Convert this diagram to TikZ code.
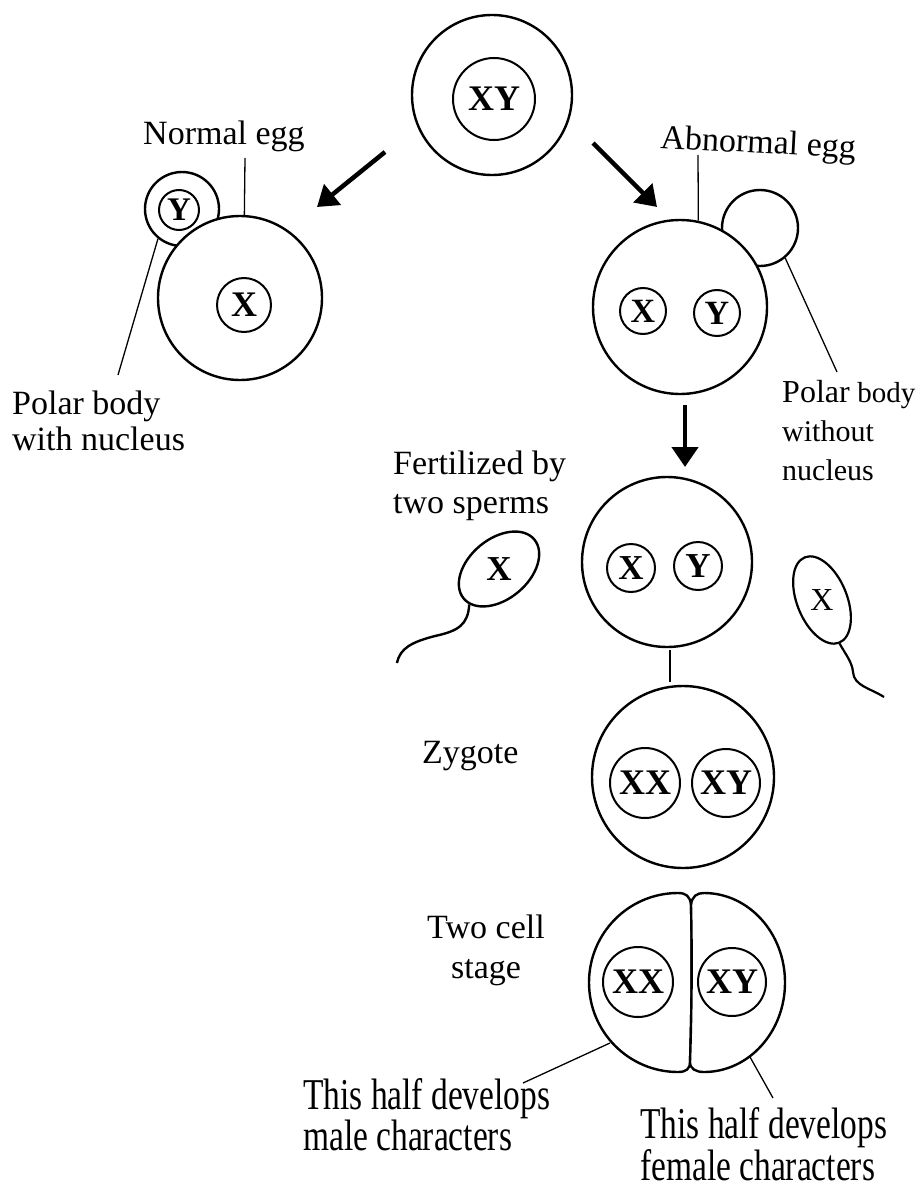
\documentclass[tikz,border=0pt]{standalone}
\usepackage{fontspec}
\setmainfont{Liberation Serif}
\newfontfamily\narrowserif[FakeStretch=0.76]{Liberation Serif}
\usetikzlibrary{shapes.geometric, arrows.meta}

\begin{document}
\begin{tikzpicture}[x=1pt, y=-1pt,
  cell/.style={circle, draw, line width=2.4pt, fill=white, inner sep=0pt},
  nucleus/.style={circle, draw, line width=2pt, fill=white, inner sep=0pt,
                  font=\fontsize{36}{36}\selectfont\bfseries},
  chrom/.style={inner sep=0pt, font=\fontsize{35}{35}\selectfont\bfseries},
  txt/.style={inner sep=0pt, align=left, font=\fontsize{34}{37}\selectfont},
  longtxt/.style={inner sep=0pt, align=left},
  leader/.style={line width=1.3pt},
  membrane/.style={line width=2.4pt},
  bigarrow/.style={line width=4.5pt, -{Triangle[length=20pt, width=26pt]}},
  sperm/.style={ellipse, draw, line width=2.4pt, fill=white, inner sep=0pt},
]
\fill[white] (0,0) rectangle (921,1193);
\useasboundingbox (0,0) rectangle (921,1193);

% parent cell
\node[cell, minimum size=160] (parent) at (492,95) {};
\node[nucleus, minimum size=82] (parentn) at (494,99) {XY};

% normal egg with its nucleated polar body
\node[cell, minimum size=74] (pbn) at (182,209) {};
\node[nucleus, minimum size=40, font=\fontsize{33}{33}\selectfont\bfseries] (pbnn) at (179,210) {Y};
\node[cell, minimum size=164] (normal) at (240,298) {};
\node[nucleus, minimum size=54] (normaln) at (244,305) {X};

% abnormal egg with an empty polar body
\node[cell, minimum size=76] (pbe) at (760,228) {};
\node[cell, minimum size=174] (abn) at (680,307) {};
\node[nucleus, minimum size=46, font=\fontsize{34}{34}\selectfont\bfseries] (abnx) at (643,311) {X};
\node[nucleus, minimum size=46, font=\fontsize{34}{34}\selectfont\bfseries] (abny) at (717,313) {Y};

% egg being fertilized
\node[cell, minimum size=170] (fert) at (667,562) {};
\node[nucleus, minimum size=48, font=\fontsize{35}{35}\selectfont\bfseries] (fertx) at (631,568) {X};
\node[nucleus, minimum size=48, font=\fontsize{35}{35}\selectfont\bfseries] (ferty) at (698,566) {Y};

% the two sperms
\node[sperm, minimum width=92, minimum height=60, rotate=40] (spl) at (499,569) {};
\node[chrom] (splx) at (spl) {X};
\draw[membrane] (spl.190) .. controls (468,625) and (458,631) .. (435,636)
                .. controls (412,642) and (400,648) .. (397,663);
\node[sperm, minimum width=92, minimum height=50, rotate=112, line width=2.2pt] (spr) at (822,600) {};
\node[inner sep=0pt, font=\fontsize{32}{32}\selectfont] (sprx) at (spr) {X};
\draw[line width=2.2pt] (spr.west) .. controls (846,655) and (852,662) .. (853,672)
                .. controls (854,686) and (870,688) .. (884,697);

% zygote
\node[cell, minimum size=182] (zyg) at (683,777) {};
\node[nucleus, minimum size=70] (zxx) at (645,783) {XX};
\node[nucleus, minimum size=68] (zxy) at (726,783) {XY};

% two cell stage
\draw[membrane, fill=white] (691,905) .. controls (690,896) and (686,893) .. (678,893)
   arc[start angle=90, end angle=270, x radius=89pt, y radius=89.5pt]
   .. controls (686,1072) and (690,1069) .. (690,1062)
   .. controls (692,1000) and (692,950) .. (691,905) -- cycle;
\draw[membrane, fill=white] (691,905) .. controls (692,896) and (697,893) .. (704,893)
   arc[start angle=90, end angle=-90, x radius=81pt, y radius=89.5pt]
   .. controls (696,1072) and (690,1069) .. (690,1062)
   .. controls (692,1000) and (692,950) .. (691,905) -- cycle;
\node[nucleus, minimum size=70] (txx) at (638,982) {XX};
\node[nucleus, minimum size=68] (txy) at (732,982) {XY};

% arrows
\coordinate (a1s) at (385,152); \coordinate (a1e) at (317,207);
\coordinate (a2s) at (593,143); \coordinate (a2e) at (657,207);
\coordinate (a3s) at (685,405); \coordinate (a3e) at (685,467);
\draw[bigarrow] (a1s) -- (a1e);
\draw[bigarrow] (a2s) -- (a2e);
\draw[bigarrow] (a3s) -- (a3e);
\coordinate (fertbot) at (670,650); \coordinate (zygtop) at (670,682);
\draw[membrane] (fertbot) -- (zygtop);

% labels (multi-line labels are placed by the baseline of their last line)
\node[txt, anchor=base west] (lnormal) at (143,145) {Normal egg};
\node[txt, anchor=base west, rotate=-3] (labn) at (660,148) {Abnormal egg};
\node[txt, anchor=base west, font=\fontsize{34}{36}\selectfont] (lpbn) at (12,450) {Polar body\\with nucleus};
\node[txt, anchor=base west, font=\fontsize{30}{39}\selectfont] (lpbe) at (782,480)
   {{\fontsize{32}{39}\selectfont Polar} {\fontsize{29}{39}\selectfont body}\\without\\nucleus};
\node[txt, anchor=base west, font=\fontsize{34}{39}\selectfont] (lfert) at (393,513) {Fertilized by\\two sperms};
\node[txt, anchor=base west] (lzyg) at (422,763) {Zygote};
\node[txt, align=center, anchor=base, font=\fontsize{34}{40}\selectfont] (ltwo) at (486,978) {Two cell\\stage};
\node[longtxt, anchor=base west, font=\fontsize{44}{33}\selectfont\narrowserif] (lmale) at (303,1150) {This half develops\\male characters};
\node[longtxt, anchor=base west, font=\fontsize{44}{37}\selectfont\narrowserif] (lfemale) at (640,1180) {This half develops\\female characters};

% leader lines
\coordinate (normaltop) at (245,158);
\coordinate (pbnend) at (118,375);
\coordinate (abntop) at (698,155);
\coordinate (pbeend) at (837,372);
\coordinate (malept) at (610,1043); \coordinate (maleend) at (523,1083);
\coordinate (femalept) at (750,1057); \coordinate (femaleend) at (773,1098);
\draw[leader] (normaltop) -- (normal.87);
\draw[leader] (pbn.231) -- (pbnend);
\draw[leader] (abntop) -- (abn.78);
\draw[leader] (pbe.310) -- (pbeend);
\draw[leader] (malept) -- (maleend);
\draw[leader] (femalept) -- (femaleend);
\end{tikzpicture}
\end{document}
